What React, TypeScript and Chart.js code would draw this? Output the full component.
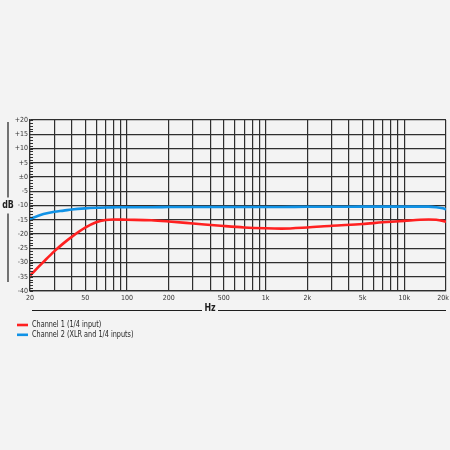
import React, { useEffect, useRef } from "react";
import { Chart, registerables } from "chart.js";

Chart.register(...registerables);

const freqs = [20, 25, 30, 35, 40, 50, 60, 70, 80, 100, 150, 200, 300, 500, 700, 1000, 1300, 2000, 3000, 5000, 7000, 10000, 13000, 15000, 17000, 19000, 20000];
const channel1 = [-34.6, -29.8, -26.0, -23.2, -21.0, -17.8, -15.9, -15.1, -14.9, -15, -15.2, -15.6, -16.3, -17.2, -17.7, -18.0, -18.1, -17.7, -17.1, -16.5, -15.9, -15.4, -15.0, -14.9, -15.0, -15.4, -15.7];
const channel2 = [-14.7, -13.0, -12.2, -11.8, -11.4, -11.0, -10.8, -10.7, -10.65, -10.6, -10.6, -10.55, -10.5, -10.5, -10.5, -10.5, -10.5, -10.45, -10.45, -10.4, -10.4, -10.4, -10.4, -10.4, -10.6, -11.0, -11.3];
const seriesLabels = ["Channel 1 (1/4 input)", "Channel 2 (XLR and 1/4 inputs)"];
const seriesColors = ["#ff2020", "#1092e6"];

const xGridValues = [20, 30, 40, 50, 60, 70, 80, 90, 100, 200, 300, 400, 500, 600, 700, 800, 900, 1000, 2000, 3000, 4000, 5000, 6000, 7000, 8000, 9000, 10000, 20000];
const xLabelValues = [20, 50, 100, 200, 500, 1000, 2000, 5000, 10000, 20000];
const xLabelTexts = ["20", "50", "100", "200", "500", "1k", "2k", "5k", "10k", "20k   "];
const yLabelValues = [20, 15, 10, 5, 0, -5, -10, -15, -20, -25, -30, -35, -40];
const yLabelTexts = ["+20", "+15", "+10", "+5", "±0", "-5", "-10", "-15", "-20", "-25", "-30", "-35", "-40"];
const yAxisTitle = "dB";
const xAxisTitle = "Hz";

const FONT = "'Liberation Sans Narrow', 'DejaVu Sans Condensed', 'Roboto', sans-serif";
const BG = "#f3f3f3";
const GRID = "#2e2e2e";

function narrowText(c: CanvasRenderingContext2D, text: string, x: number, y: number, sx: number) {
  c.save();
  c.translate(x, y);
  c.scale(sx, 1);
  c.fillText(text, 0, 0);
  c.restore();
}

export default function App() {
  const ref = useRef<HTMLCanvasElement | null>(null);

  useEffect(() => {
    if (!ref.current) return;
    const decor = {
      id: "decor",
      beforeDraw(chart: any) {
        const c = chart.ctx;
        c.save();
        c.fillStyle = BG;
        c.fillRect(0, 0, chart.width, chart.height);
        c.restore();
      },
      afterDraw(chart: any) {
        const c = chart.ctx;
        const { left, right, top, bottom } = chart.chartArea;
        const ys = chart.scales.y;
        c.save();
        c.strokeStyle = GRID;
        c.lineWidth = 1;
        for (let v = -40; v <= 20; v++) {
          const py = Math.round(ys.getPixelForValue(v)) + 0.5;
          c.beginPath();
          c.moveTo(left, py);
          c.lineTo(left + 3, py);
          c.stroke();
        }
        const midY = (top + bottom) / 2;
        c.fillStyle = "#1e1e1e";
        c.font = `bold 11px ${FONT}`;
        c.textAlign = "center";
        c.textBaseline = "middle";
        narrowText(c, yAxisTitle, 8, midY, 0.8);
        c.strokeStyle = "#1e1e1e";
        c.lineWidth = 1.2;
        c.beginPath();
        c.moveTo(8, top + 2);
        c.lineTo(8, midY - 8);
        c.moveTo(8, midY + 8);
        c.lineTo(8, bottom - 9);
        c.stroke();
        const hzX = 210;
        const hzY = 310;
        narrowText(c, xAxisTitle, hzX, hzY - 2, 0.8);
        c.beginPath();
        c.moveTo(left + 2, hzY + 0.5);
        c.lineTo(hzX - 8, hzY + 0.5);
        c.moveTo(hzX + 8, hzY + 0.5);
        c.lineTo(right, hzY + 0.5);
        c.stroke();
        c.font = `9.5px ${FONT}`;
        c.textAlign = "left";
        c.fillStyle = "#1e1e1e";
        seriesLabels.forEach((lab, i) => {
          const ly = 325 + i * 9.8;
          c.strokeStyle = seriesColors[i];
          c.lineWidth = 2.6;
          c.beginPath();
          c.moveTo(17, ly);
          c.lineTo(28, ly);
          c.stroke();
          narrowText(c, lab, 32, ly, 0.76);
        });
        c.restore();
      },
    };

    const chart = new Chart(ref.current, {
      type: "line",
      data: {
        datasets: [channel1, channel2].map((vals, i) => ({
          label: seriesLabels[i],
          data: freqs.map((f, j) => ({ x: f, y: vals[j] })),
          borderColor: seriesColors[i],
          backgroundColor: seriesColors[i],
          borderWidth: 2.6,
          pointRadius: 0,
          cubicInterpolationMode: "monotone" as const,
          fill: false,
        })),
      },
      options: {
        animation: false,
        responsive: false,
        devicePixelRatio: 1,
        layout: { padding: { top: 120, left: 0, right: 4, bottom: 139 } },
        plugins: { legend: { display: false }, tooltip: { enabled: false } },
        scales: {
          x: {
            type: "logarithmic",
            min: 20,
            max: 20000,
            afterBuildTicks: (scale: any) => {
              scale.ticks = xGridValues.map((v) => ({ value: v }));
            },
            afterFit: (scale: any) => {
              scale.height = 20;
              scale.paddingRight = 0;
              scale.paddingLeft = 0;
            },
            grid: { color: GRID, lineWidth: 1.2, drawTicks: false },
            border: { color: GRID, width: 1.2 },
            ticks: {
              autoSkip: false,
              maxRotation: 0,
              padding: 3,
              color: "#333",
              font: { family: FONT, size: 7 },
              callback: (v: any) => {
                const idx = xLabelValues.indexOf(Number(v));
                return idx >= 0 ? xLabelTexts[idx] : "";
              },
            },
          },
          y: {
            type: "linear",
            min: -40,
            max: 20,
            afterBuildTicks: (scale: any) => {
              scale.ticks = yLabelValues.map((v) => ({ value: v }));
            },
            afterFit: (scale: any) => {
              scale.width = 30;
            },
            grid: { color: GRID, lineWidth: 1.2, drawTicks: false },
            border: { color: GRID, width: 1.2 },
            ticks: {
              autoSkip: false,
              padding: 2,
              color: "#333",
              font: { family: FONT, size: 7 },
              callback: (v: any) => {
                const idx = yLabelValues.indexOf(Number(v));
                return idx >= 0 ? yLabelTexts[idx] : "";
              },
            },
          },
        },
      },
      plugins: [decor],
    });
    return () => chart.destroy();
  }, []);

  return (
    <div style={{ position: "fixed", left: 0, top: 0, width: 450, height: 450, background: BG }}>
      <canvas ref={ref} width={450} height={450} style={{ display: "block" }} />
    </div>
  );
}
